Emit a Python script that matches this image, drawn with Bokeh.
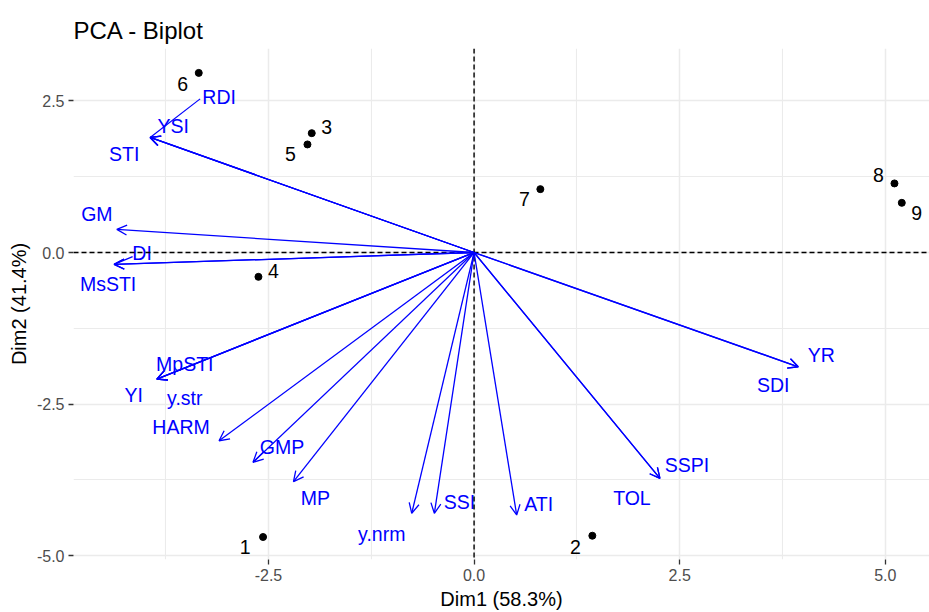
import numpy as np
from bokeh.plotting import figure
from bokeh.models import (ColumnDataSource, Arrow, OpenHead, Span, FixedTicker,
                          PrintfTickFormatter, Range1d)
from bokeh.core.properties import value
from bokeh.embed import file_html
from bokeh.resources import INLINE

# ---------------- data ----------------
title_text = "PCA - Biplot"
x_label = "Dim1 (58.3%)"
y_label = "Dim2 (41.4%)"

ind_names = ["1", "2", "3", "4", "5", "6", "7", "8", "9"]
ind_dim1 = [-2.566, 1.438, -1.974, -2.622, -2.026, -3.348, 0.806, 5.112, 5.201]
ind_dim2 = [-4.691, -4.670, 1.968, -0.401, 1.782, 2.962, 1.045, 1.139, 0.819]

var_names = ["RDI", "YSI", "STI", "GM", "DI", "MsSTI", "MpSTI", "YI", "y.str", "HARM",
             "GMP", "MP", "y.nrm", "SSI", "ATI", "TOL", "SSPI", "YR", "SDI"]
var_dim1 = [-3.939, -3.939, -3.939, -4.344, -4.377, -4.377, -3.858, -3.858, -3.858, -3.101,
            -2.688, -2.196, -0.758, -0.483, 0.518, 2.260, 2.260, 3.942, 3.942]
var_dim2 = [1.897, 1.897, 1.897, 0.381, -0.196, -0.196, -2.087, -2.087, -2.087, -3.104,
            -3.460, -3.779, -4.300, -4.300, -4.328, -3.723, -3.723, -1.884, -1.884]

x_ticks = [-2.5, 0.0, 2.5, 5.0]
x_minor = [-3.75, -1.25, 1.25, 3.75]
y_ticks = [-5.0, -2.5, 0.0, 2.5]
y_minor = [-3.75, -1.25, 1.25]

# ---------------- styles (label placement in screen pixels, repel-like) ----------------
ind_dx = [-18, -17, 15, 15, -17, -16, -16, -16, 15]
ind_dy = [10, 11, -6, -6, 10, 11, 10, -8, 10]
var_dx = [69, 23, -26, -20, 28, -6, 28, -23, 28, -38, 29, 22, -30, 25, 22, -28, 27, 23, -25]
var_dy = [-40, -11, 17, -15, -11, 20, -15, 16, 19, -14, -15, 16, 21, -11, -11, 20, -13, -12, 18]
# connector segments (label edge offset from arrow tip, pixels)
conn = {"RDI": (50, -38.6), "DI": (18.5, -7.8), "GMP": (10.6, -10.6)}

FONT = "Liberation Sans"
BLUE = "#0000FF"
GRID = "#EBEBEB"

x0, x1 = -4.871, 5.538
y0, y1 = -5.062, 3.364
FW, FH = 856, 511

p = figure(frame_width=FW, frame_height=FH, output_backend="svg", toolbar_location=None,
           x_range=Range1d(x0, x1), y_range=Range1d(y0, y1),
           min_border_left=73, min_border_right=0, min_border_top=48, min_border_bottom=53,
           background_fill_color="white", border_fill_color="white")
p.outline_line_color = None

p.title.text = title_text
p.title.text_font = FONT
p.title.text_font_size = "24px"
p.title.text_font_style = "normal"
p.title.text_color = "black"
p.title.align = "left"
p.title.standoff = 10

p.xaxis.ticker = FixedTicker(ticks=x_ticks, minor_ticks=x_minor)
p.yaxis.ticker = FixedTicker(ticks=y_ticks, minor_ticks=y_minor)
for ax in (p.xaxis, p.yaxis):
    ax.formatter = PrintfTickFormatter(format="%.1f")
    ax.axis_line_color = None
    ax.major_tick_line_color = "#333333"
    ax.major_tick_line_width = 1.3
    ax.major_tick_in = 0
    ax.major_tick_out = 5
    ax.minor_tick_line_color = None
    ax.major_label_text_font = FONT
    ax.major_label_text_font_size = "16px"
    ax.major_label_text_color = "#4D4D4D"
    ax.major_label_standoff = 4
    ax.axis_label_text_font = FONT
    ax.axis_label_text_font_size = "20px"
    ax.axis_label_text_font_style = "normal"
    ax.axis_label_text_color = "black"
    ax.axis_label_standoff = 4
p.xaxis.axis_label = x_label
p.yaxis.axis_label = y_label

for g in (p.xgrid, p.ygrid):
    g.grid_line_color = GRID
    g.grid_line_width = 1.5
    g.minor_grid_line_color = GRID
    g.minor_grid_line_width = 1.1

# zero lines
p.add_layout(Span(location=0, dimension="height", line_color="black",
                  line_dash="5 3", line_width=1.4))
p.add_layout(Span(location=0, dimension="width", line_color="black",
                  line_dash="5 3", line_width=1.4))

# individuals
ind_src = ColumnDataSource(dict(x=ind_dim1, y=ind_dim2, t=ind_names, dx=ind_dx, dy=ind_dy))
p.scatter("x", "y", source=ind_src, size=7, color="black")
p.text("x", "y", text="t", source=ind_src, x_offset="dx", y_offset="dy",
       text_font=value(FONT), text_font_size="19.5px", text_color="black",
       text_align="center", text_baseline="middle")

# variable arrows
n = len(var_names)
arr_src = ColumnDataSource(dict(xs=[0.0] * n, ys=[0.0] * n, xe=var_dim1, ye=var_dim2))
p.add_layout(Arrow(source=arr_src, x_start="xs", y_start="ys", x_end="xe", y_end="ye",
                   line_color=BLUE, line_width=1.3,
                   end=OpenHead(size=10, line_color=BLUE, line_width=1.3)))

# connector segments from labels to arrow tips
sx = FW / (x1 - x0)
sy = FH / (y1 - y0)
cx0, cy0, cx1, cy1 = [], [], [], []
for name, (cdx, cdy) in conn.items():
    i = var_names.index(name)
    cx0.append(var_dim1[i]); cy0.append(var_dim2[i])
    cx1.append(var_dim1[i] + cdx / sx); cy1.append(var_dim2[i] - cdy / sy)
p.segment(cx0, cy0, cx1, cy1, line_color=BLUE, line_width=1.2)

var_src = ColumnDataSource(dict(x=var_dim1, y=var_dim2, t=var_names, dx=var_dx, dy=var_dy))
p.text("x", "y", text="t", source=var_src, x_offset="dx", y_offset="dy",
       text_font=value(FONT), text_font_size="19.5px", text_color=BLUE,
       text_align="center", text_baseline="middle")

open("out.html", "w").write(file_html(p, INLINE))
